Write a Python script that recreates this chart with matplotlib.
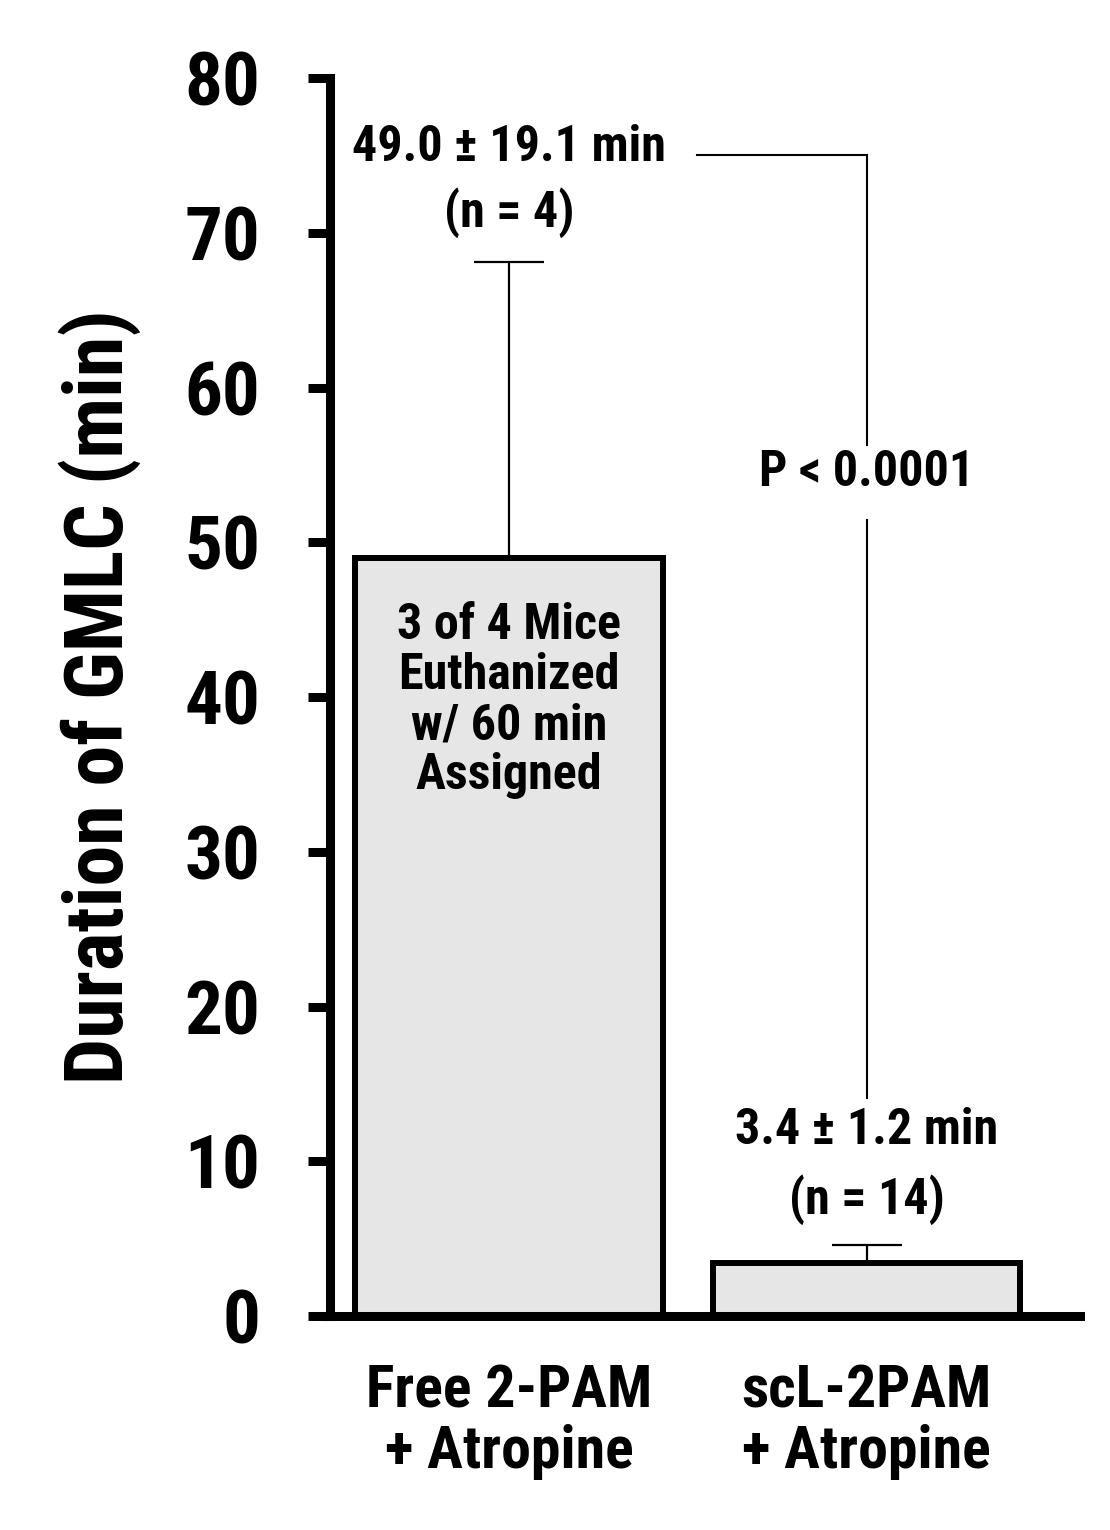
import matplotlib
matplotlib.use("Agg")
import matplotlib.pyplot as plt
from matplotlib import font_manager

# narrow bold sans (Arial Narrow look); fall back to Liberation Sans
bold_fams = {f.name for f in font_manager.fontManager.ttflist if f.weight in ("bold", 700, 800)}
font = "Liberation Sans"
for cand in ["Liberation Sans Narrow", "Arial Narrow", "Nimbus Sans Narrow", "Roboto Condensed",
             "Archivo Narrow", "PT Sans Narrow", "Pragati Narrow", "Barlow Semi Condensed"]:
    if cand in bold_fams:
        font = cand
        break
plt.rcParams["font.family"] = [font, "Liberation Sans", "DejaVu Sans"]
plt.rcParams["font.weight"] = "bold"

# data
groups = ["Free 2-PAM\n+ Atropine", "scL-2PAM\n+ Atropine"]
means = [49.0, 3.4]
sds = [19.1, 1.2]
ns = [4, 14]
p_text = "P < 0.0001"
note = "3 of 4 Mice\nEuthanized\nw/ 60 min\nAssigned"

fig = plt.figure(figsize=(11.1, 15.3), dpi=100)
ax = fig.add_axes([0.2973, 0.1399, 0.6757, 0.809])

x = [0, 1]
ax.bar(x, means, width=0.861, color="#e6e6e6", edgecolor="black", linewidth=4.3, zorder=2)
ax.errorbar(x, means, yerr=[[0, 0], sds], fmt="none", ecolor="black",
            elinewidth=1.6, capsize=25, capthick=1.6, zorder=1)

ax.set_xlim(-0.5007, 1.597)
ax.set_ylim(0, 80)
ax.set_yticks(range(0, 81, 10))
ax.set_xticks(x)
ax.set_xticklabels(groups, fontsize=43, fontweight="bold", linespacing=1.12)
ax.tick_params(axis="y", labelsize=54, width=6.5, length=16, pad=34)
ax.tick_params(axis="x", length=0, pad=34)
for lab in ax.get_yticklabels():
    lab.set_fontweight("bold")
ax.set_ylabel("Duration of GMLC (min)", fontsize=59, fontweight="bold", va="center")
ax.yaxis.set_label_coords(-0.307, 0.5)

for s in ["top", "right"]:
    ax.spines[s].set_visible(False)
for s in ["left", "bottom"]:
    ax.spines[s].set_linewidth(6.5)

# annotations
fs = 36
ax.text(x[0], 75.5, f"{means[0]:.1f} \u00b1 {sds[0]:.1f} min", ha="center", va="center", fontsize=fs)
ax.text(x[0], 71.3, f"(n = {ns[0]})", ha="center", va="center", fontsize=fs)
ax.text(x[1], 12.0, f"{means[1]:.1f} \u00b1 {sds[1]:.1f} min", ha="center", va="center", fontsize=fs)
ax.text(x[1], 7.5, f"(n = {ns[1]})", ha="center", va="center", fontsize=fs)
ax.text(x[0], 39.75, note, ha="center", va="center", fontsize=fs, linespacing=1.08)
ax.text(x[1], 54.5, p_text, ha="center", va="center", fontsize=fs)

# significance bracket
ax.plot([0.526, 1.0], [75.05, 75.05], color="black", lw=1.5)
ax.plot([1.0, 1.0], [75.05, 56.3], color="black", lw=1.5)
ax.plot([1.0, 1.0], [51.45, 14.1], color="black", lw=1.5)

fig.savefig("out.png", dpi=100, facecolor="white")
